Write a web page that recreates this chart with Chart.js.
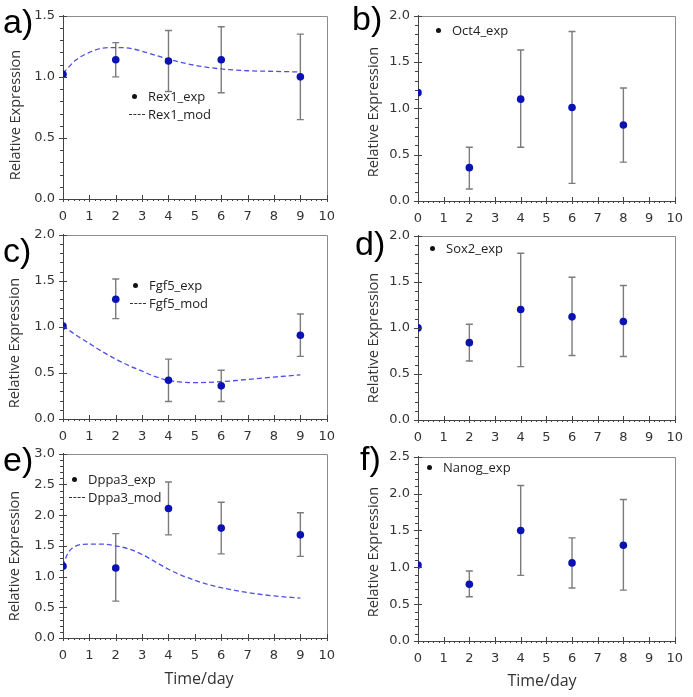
<!DOCTYPE html>
<html>
<head>
<meta charset="utf-8">
<script src="https://cdn.jsdelivr.net/npm/chart.js@4.4.1/dist/chart.umd.min.js"></script>
<style>
   body { margin:0; background:#fff; width:693px; height:697px; position:relative; overflow:hidden; }
   canvas { position:absolute; }
   .lab { position:absolute; font-family:"Liberation Sans", Arial, sans-serif; font-size:34px; line-height:1; color:#000; }
   .ytitle { position:absolute; font-family:"Open Sans", sans-serif; font-size:14.5px; color:#333; white-space:nowrap;
             transform:translate(-50%,-50%) rotate(-90deg); }
   .xtitle { position:absolute; font-family:"Open Sans", sans-serif; font-size:16px; color:#333; white-space:nowrap;
             transform:translate(-50%,-50%); }
   .leg { position:absolute; font-family:"Open Sans", sans-serif; font-size:13px; color:#222; line-height:18px; white-space:nowrap; }
   .leg span.sym { display:inline-block; width:17px; height:18px; vertical-align:top; position:relative; margin-right:2px; }
   .dot { position:absolute; left:3px; top:7px; width:5px; height:5px; border-radius:50%; background:#111; }
   .dash { position:absolute; left:0; top:9px; width:16px; border-top:1px dashed #333; }
</style>
</head>
<body>
<script>
// --- data ---
const rex1Days = [0, 2, 4, 6, 9];
const rex1Exp  = [1.02, 1.14, 1.13, 1.14, 1.00];
const rex1Lo   = [null, 1.00, 0.88, 0.87, 0.65];
const rex1Hi   = [null, 1.28, 1.38, 1.41, 1.35];
const rex1ModDays = [0, 0.5, 1, 1.5, 2, 2.5, 3, 4, 5, 6, 7, 8, 9];
const rex1Mod     = [1.03, 1.14, 1.20, 1.235, 1.24, 1.235, 1.21, 1.145, 1.095, 1.065, 1.05, 1.045, 1.04];

const oct4Days = [0, 2, 4, 6, 8];
const oct4Exp  = [1.17, 0.36, 1.10, 1.01, 0.82];
const oct4Lo   = [null, 0.13, 0.58, 0.19, 0.42];
const oct4Hi   = [null, 0.58, 1.63, 1.83, 1.22];

const fgf5Days = [0, 2, 4, 6, 9];
const fgf5Exp  = [1.01, 1.30, 0.42, 0.36, 0.91];
const fgf5Lo   = [null, 1.09, 0.19, 0.19, 0.68];
const fgf5Hi   = [null, 1.52, 0.65, 0.53, 1.14];
const fgf5ModDays = [0, 0.5, 1, 1.5, 2, 2.5, 3, 3.5, 4, 4.5, 5, 6, 7, 8, 9];
const fgf5Mod     = [1.01, 0.91, 0.82, 0.73, 0.65, 0.58, 0.52, 0.46, 0.42, 0.40, 0.395, 0.405, 0.43, 0.455, 0.48];

const sox2Days = [0, 2, 4, 6, 8];
const sox2Exp  = [1.00, 0.84, 1.20, 1.12, 1.07];
const sox2Lo   = [null, 0.64, 0.58, 0.70, 0.69];
const sox2Hi   = [null, 1.04, 1.81, 1.55, 1.46];

const dppa3Days = [0, 2, 4, 6, 9];
const dppa3Exp  = [1.17, 1.14, 2.11, 1.79, 1.68];
const dppa3Lo   = [null, 0.60, 1.68, 1.37, 1.33];
const dppa3Hi   = [null, 1.70, 2.54, 2.21, 2.04];
const dppa3ModDays = [0, 0.1, 0.25, 0.5, 1, 1.5, 2, 2.5, 3, 3.5, 4, 4.5, 5, 5.5, 6, 7, 8, 9];
const dppa3Mod     = [1.17, 1.30, 1.42, 1.50, 1.53, 1.53, 1.50, 1.45, 1.36, 1.24, 1.12, 1.02, 0.94, 0.87, 0.82, 0.74, 0.685, 0.65];

const nanogDays = [0, 2, 4, 6, 8];
const nanogExp  = [1.03, 0.77, 1.50, 1.06, 1.30];
const nanogLo   = [null, 0.60, 0.89, 0.72, 0.69];
const nanogHi   = [null, 0.95, 2.11, 1.40, 1.92];

const xTicks = [0, 10];
const yMaxes = [1.5, 2.0, 2.0, 2.0, 3.0, 2.5];
const panelLabels = ["a)", "b)", "c)", "d)", "e)", "f)"];
const yTitle = "Relative Expression";
const xTitle = "Time/day";

// --- layout of each panel (canvas box + plot area offsets) ---
const panels = [
   {lab:0, gene:"Rex1",  days:rex1Days,  exp:rex1Exp,  lo:rex1Lo,  hi:rex1Hi,  mD:rex1ModDays,  mY:rex1Mod,
    x:0,   y:0,   w:345, h:229, yw:63, pt:9,  pr:18, labPos:[3,4],     yt:[14,115], leg:[129,96]},
   {lab:1, gene:"Oct4",  days:oct4Days,  exp:oct4Exp,  lo:oct4Lo,  hi:oct4Hi,
    x:345, y:0,   w:348, h:231, yw:73, pt:11, pr:10, labPos:[352,1],   yt:[372,112], leg:[433,30]},
   {lab:2, gene:"Fgf5",  days:fgf5Days,  exp:fgf5Exp,  lo:fgf5Lo,  hi:fgf5Hi,  mD:fgf5ModDays,  mY:fgf5Mod,
    x:0,   y:219, w:345, h:229, yw:63, pt:10, pr:18, labPos:[3,233],   yt:[13,343], leg:[130,285]},
   {lab:3, gene:"Sox2",  days:sox2Days,  exp:sox2Exp,  lo:sox2Lo,  hi:sox2Hi,
    x:345, y:220, w:348, h:231, yw:73, pt:10, pr:10, labPos:[355,226], yt:[372,338], leg:[427,248]},
   {lab:4, gene:"Dppa3", days:dppa3Days, exp:dppa3Exp, lo:dppa3Lo, hi:dppa3Hi, mD:dppa3ModDays, mY:dppa3Mod,
    x:0,   y:438, w:345, h:230, yw:63, pt:10, pr:18, labPos:[3,442],   yt:[13,556], leg:[69,479], xt:[199,678]},
   {lab:5, gene:"Nanog", days:nanogDays, exp:nanogExp, lo:nanogLo, hi:nanogHi,
    x:345, y:441, w:348, h:231, yw:73, pt:10, pr:10, labPos:[360,441], yt:[372,552], leg:[424,467], xt:[542,680]},
];

const decor = {
   id: 'decor',
   beforeDatasetsDraw(chart, args, opts) {
      const {ctx, chartArea: a, scales: {x, y}} = chart;
      ctx.save();
      // top and right frame
      ctx.strokeStyle = '#8c8c8c';
      ctx.lineWidth = 1;
      ctx.beginPath();
      ctx.moveTo(a.left, Math.round(a.top) + 0.5);
      ctx.lineTo(Math.round(a.right) + 0.5, Math.round(a.top) + 0.5);
      ctx.lineTo(Math.round(a.right) + 0.5, a.bottom);
      ctx.stroke();
      // error bars
      ctx.strokeStyle = '#7c7c7c';
      ctx.lineWidth = 1.4;
      opts.days.forEach((d, i) => {
         if (opts.lo[i] == null) return;
         const px = x.getPixelForValue(d), y1 = y.getPixelForValue(opts.lo[i]), y2 = y.getPixelForValue(opts.hi[i]);
         ctx.beginPath();
         ctx.moveTo(px, y1); ctx.lineTo(px, y2);
         ctx.moveTo(px - 3.5, y1); ctx.lineTo(px + 3.5, y1);
         ctx.moveTo(px - 3.5, y2); ctx.lineTo(px + 3.5, y2);
         ctx.stroke();
      });
      ctx.restore();
   },
   afterDraw(chart) {
      const {ctx, chartArea: a, scales: {x, y}} = chart;
      ctx.save();
      ctx.strokeStyle = '#444';
      ctx.lineWidth = 1;
      ctx.beginPath();
      // x ticks: major every 1, minor every 0.2
      for (let k = 0; k <= 50; k++) {
         const px = Math.round(x.getPixelForValue(k / 5)) + 0.5;
         if (k % 5 == 0) { ctx.moveTo(px, a.bottom - 4); ctx.lineTo(px, a.bottom + 3); }
         else { ctx.moveTo(px, a.bottom); ctx.lineTo(px, a.bottom + 2); }
      }
      // y ticks: major every 0.5, minor every 0.1
      const n = Math.round(y.max * 10);
      for (let k = 0; k <= n; k++) {
         const py = Math.round(y.getPixelForValue(k / 10)) + 0.5;
         if (k % 5 == 0) { ctx.moveTo(a.left - 4, py); ctx.lineTo(a.left + 4, py); }
         else { ctx.moveTo(a.left - 3, py); ctx.lineTo(a.left, py); }
      }
      ctx.stroke();
      ctx.restore();
   }
};

function addDiv(cls, html, left, top) {
   const d = document.createElement('div');
   d.className = cls;
   d.innerHTML = html;
   d.style.left = left + 'px';
   d.style.top = top + 'px';
   document.body.appendChild(d);
   return d;
}

panels.forEach(p => {
   const cv = document.createElement('canvas');
   cv.width = p.w; cv.height = p.h;
   cv.style.left = p.x + 'px'; cv.style.top = p.y + 'px';
   document.body.appendChild(cv);

   const datasets = [{
      label: p.gene + '_exp',
      data: p.days.map((d, i) => ({x: d, y: p.exp[i]})),
      showLine: false,
      pointRadius: 3.8,
      pointBackgroundColor: '#0a12b4',
      pointBorderColor: '#0a12b4',
      pointBorderWidth: 0,
   }];
   if (p.mD) datasets.push({
      label: p.gene + '_mod',
      data: p.mD.map((d, i) => ({x: d, y: p.mY[i]})),
      borderColor: '#4d4de8',
      borderWidth: 1.3,
      borderDash: [5, 3],
      pointRadius: 0,
      cubicInterpolationMode: 'monotone',
      fill: false,
   });

   new Chart(cv, {
      type: 'line',
      data: {datasets: datasets},
      plugins: [decor],
      options: {
         responsive: false,
         devicePixelRatio: 1,
         animation: false,
         layout: {padding: {top: p.pt, right: p.pr, left: 0, bottom: 0}},
         plugins: {
            legend: {display: false},
            tooltip: {enabled: false},
            decor: {days: p.days, lo: p.lo, hi: p.hi},
         },
         scales: {
            x: {
               type: 'linear', min: xTicks[0], max: xTicks[1],
               afterFit: s => { s.height = p.h - p.pt - 190; },
               border: {display: true, color: '#444', width: 1},
               grid: {display: false, drawTicks: false},
               ticks: {stepSize: 1, padding: 10, maxRotation: 0, autoSkip: false, color: '#333',
                       font: {family: 'DejaVu Sans', size: 13}},
            },
            y: {
               type: 'linear', min: 0, max: yMaxes[p.lab],
               afterFit: s => { s.width = p.yw; },
               border: {display: true, color: '#444', width: 1},
               grid: {display: false, drawTicks: false},
               ticks: {stepSize: 0.5, padding: 8, color: '#333', callback: v => v.toFixed(1),
                       font: {family: 'DejaVu Sans', size: 13}},
            }
         }
      }
   });

   addDiv('lab', panelLabels[p.lab], p.labPos[0], p.labPos[1]);
   addDiv('ytitle', yTitle, p.yt[0], p.yt[1]);
   if (p.xt) addDiv('xtitle', xTitle, p.xt[0], p.xt[1]);
   addDiv('leg', '<span class="sym"><span class="dot"></span></span>' + p.gene + '_exp', p.leg[0], p.leg[1] - 9);
   if (p.mD) addDiv('leg', '<span class="sym"><span class="dash"></span></span>' + p.gene + '_mod', p.leg[0], p.leg[1] + 9);
});
</script>
</body>
</html>
